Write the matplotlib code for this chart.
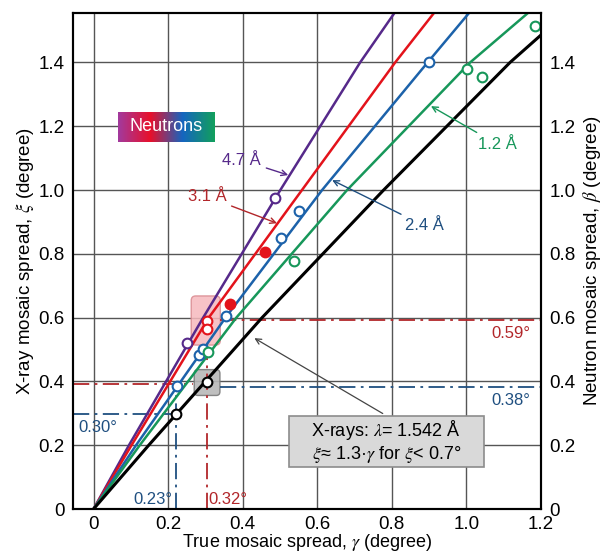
import numpy as np
import matplotlib
matplotlib.use("Agg")
import matplotlib.pyplot as plt
from matplotlib.patches import FancyBboxPatch
from matplotlib.colors import LinearSegmentedColormap

plt.rcParams['font.family'] = ['Liberation Sans', 'DejaVu Sans']
plt.rcParams['mathtext.fontset'] = 'stix'

# ---- data ----
xi_levels = [0, 0.2, 0.6, 1.0, 1.4, 1.555]          # ξ values where curves were read
gamma_47 = [0, 0.095, 0.294, 0.501, 0.715, 0.807]   # 4.7 Å
gamma_31 = [0, 0.102, 0.309, 0.559, 0.809, 0.913]   # 3.1 Å
gamma_24 = [0, 0.114, 0.354, 0.613, 0.896, 1.007]   # 2.4 Å
gamma_12 = [0, 0.124, 0.383, 0.680, 1.010, 1.165]   # 1.2 Å
gamma_xr = [0, 0.148, 0.452, 0.778, 1.117, 1.2]     # X-rays
xi_xr = [0, 0.2, 0.6, 1.0, 1.4, 1.486]

pts_47 = ([0.251, 0.488], [0.521, 0.975])
pts_31_open = ([0.303, 0.303], [0.590, 0.564])
pts_31_filled = ([0.365, 0.460], [0.642, 0.806])
pts_24 = ([0.224, 0.283, 0.293, 0.356, 0.504, 0.552, 0.901],
          [0.386, 0.482, 0.502, 0.605, 0.851, 0.935, 1.402])
pts_12 = ([0.306, 0.537, 1.001, 1.041, 1.183],
          [0.492, 0.777, 1.381, 1.353, 1.514])
pts_xr = ([0.221, 0.303], [0.297, 0.399])

# reference values
ref_gamma_blue = 0.222
ref_gamma_red = 0.303
ref_xi_blue = 0.297
ref_xi_red = 0.393
ref_beta_blue = 0.383
ref_beta_red = 0.593

xticks = [0, 0.2, 0.4, 0.6, 0.8, 1.0, 1.2]
xticklabels = ["0", "0.2", "0.4", "0.6", "0.8", "1.0", "1.2"]
yticks = [0, 0.2, 0.4, 0.6, 0.8, 1.0, 1.2, 1.4]
yticklabels = ["0", "0.2", "0.4", "0.6", "0.8", "1.0", "1.2", "1.4"]

# colours
PURPLE = '#56298a'
RED = '#e3131b'
BLUE = '#1c62aa'
GREEN = '#17975a'
DRED = '#b2262a'
DBLUE = '#1f4f80'

fig = plt.figure(figsize=(6.06, 5.56), dpi=100)
ax = fig.add_axes([0.1205, 0.0845, 0.7722, 0.8921])
XMIN, XMAX, YMIN, YMAX = -0.055, 1.2, 0.0, 1.555
ax.set_xlim(XMIN, XMAX)
ax.set_ylim(YMIN, YMAX)

ax.set_xticks(xticks)
ax.set_xticklabels(xticklabels)
ax.set_yticks(yticks)
ax.set_yticklabels(yticklabels)
ax.tick_params(axis='y', length=0, labelsize=13.5, pad=6)
ax.tick_params(axis='x', length=0, labelsize=13.5, pad=5)
ax.grid(True, color='#555555', linewidth=1.0)
ax.set_axisbelow(True)
for s in ax.spines.values():
    s.set_linewidth(1.5)

ax2 = ax.twinx()
ax2.set_ylim(YMIN, YMAX)
ax2.set_yticks(yticks)
ax2.set_yticklabels(yticklabels)
ax2.tick_params(length=0, labelsize=13.5, pad=6)
for s in ax2.spines.values():
    s.set_linewidth(1.5)

ax.set_xlabel(r"True mosaic spread, $\gamma$ (degree)", fontsize=13, labelpad=-1)
ax.set_ylabel(r"X-ray mosaic spread, $\xi$ (degree)", fontsize=13.5, labelpad=2)
ax2.set_ylabel(r"Neutron mosaic spread, $\beta$ (degree)", fontsize=13.5, labelpad=4)

# highlight boxes
pink = FancyBboxPatch((0.262, 0.514), 0.078, 0.154, boxstyle="round,pad=0,rounding_size=0.012",
                      facecolor='#f6b9bd', edgecolor='#d98a90', linewidth=1, alpha=0.85, zorder=1,
                      mutation_aspect=1.2)
ax.add_patch(pink)
gray = FancyBboxPatch((0.270, 0.356), 0.069, 0.081, boxstyle="round,pad=0,rounding_size=0.01",
                      facecolor='#b8b8b8', edgecolor='#7a7a7a', linewidth=1, alpha=0.9, zorder=1,
                      mutation_aspect=1.2)
ax.add_patch(gray)

# reference dash-dot lines
dd = (0, (9, 3, 1.5, 3))
ax.plot([XMIN, ref_gamma_red - 0.035], [ref_xi_red, ref_xi_red], color=DRED, lw=1.3, ls=dd, zorder=2)
ax.plot([ref_gamma_red + 0.035, XMAX], [ref_beta_blue, ref_beta_blue], color=DBLUE, lw=1.3, ls=dd, zorder=2)
ax.plot([0.34, XMAX], [ref_beta_red, ref_beta_red], color=DRED, lw=1.3, ls=dd, zorder=2)
ax.plot([XMIN, ref_gamma_blue], [ref_xi_blue, ref_xi_blue], color=DBLUE, lw=1.3, ls=dd, zorder=2)
ax.plot([ref_gamma_red, ref_gamma_red], [0, 0.52], color=DRED, lw=1.3, ls=dd, zorder=2)
ax.plot([ref_gamma_blue, ref_gamma_blue], [0, ref_beta_blue], color=DBLUE, lw=1.3, ls=dd, zorder=2)

# curves
lw = 1.8
ax.plot(gamma_47, xi_levels, color=PURPLE, lw=lw, zorder=3)
ax.plot(gamma_31, xi_levels, color=RED, lw=lw, zorder=3)
ax.plot(gamma_24, xi_levels, color=BLUE, lw=lw, zorder=3)
ax.plot(gamma_12, xi_levels, color=GREEN, lw=lw, zorder=3)
ax.plot(gamma_xr, xi_xr, color='black', lw=2.2, zorder=3)

mk = dict(ls='none', marker='o', markersize=7, markeredgewidth=1.5, zorder=4)
ax.plot(*pts_47, mfc='white', mec=PURPLE, **mk)
ax.plot(*pts_31_open, mfc='white', mec=RED, **mk)
ax.plot(*pts_31_filled, mfc=RED, mec=RED, **mk)
ax.plot(*pts_24, mfc='white', mec=BLUE, **mk)
ax.plot(*pts_12, mfc='white', mec=GREEN, **mk)
ax.plot(*pts_xr, mfc='white', mec='black', **mk)

# value labels
fs = 12
ax.text(-0.04, 0.255, "0.30°", color=DBLUE, fontsize=fs, ha='left', va='center')
ax.text(0.212, 0.03, "0.23°", color=DBLUE, fontsize=fs, ha='right', va='center')
ax.text(0.307, 0.03, "0.32°", color=DRED, fontsize=fs, ha='left', va='center')
ax.text(1.172, 0.55, "0.59°", color=DRED, fontsize=fs, ha='right', va='center')
ax.text(1.172, 0.34, "0.38°", color=DBLUE, fontsize=fs, ha='right', va='center')

# wavelength labels with arrows
ap = lambda c: dict(arrowstyle='->', color=c, lw=1.0, shrinkA=2, shrinkB=0, mutation_scale=10)
ax.annotate("4.7 Å", xy=(0.522, 1.047), xytext=(0.397, 1.094), color=PURPLE, fontsize=fs,
            ha='center', va='center', arrowprops=ap(PURPLE))
ax.annotate("3.1 Å", xy=(0.492, 0.896), xytext=(0.304, 0.979), color=DRED, fontsize=fs,
            ha='center', va='center', arrowprops=ap(DRED))
ax.annotate("2.4 Å", xy=(0.640, 1.031), xytext=(0.887, 0.888), color=DBLUE, fontsize=fs,
            ha='center', va='center', arrowprops=ap(DBLUE))
ax.annotate("1.2 Å", xy=(0.905, 1.263), xytext=(1.082, 1.144), color=GREEN, fontsize=fs,
            ha='center', va='center', arrowprops=ap(GREEN))

# X-ray box
ax.annotate("", xy=(0.425, 0.540), xytext=(0.782, 0.295),
            arrowprops=dict(arrowstyle='->', color='#444444', lw=0.9, mutation_scale=10), zorder=5)
xbox = FancyBboxPatch((0.523, 0.131), 0.523, 0.161, boxstyle="square,pad=0",
                      facecolor='#d9d9d9', edgecolor='#8c8c8c', linewidth=1.2, zorder=6)
ax.add_patch(xbox)
ax.text(0.785, 0.249, r"X-rays: $\lambda$= 1.542 Å", fontsize=13, ha='center', va='center', zorder=7)
ax.text(0.785, 0.172, r"$\xi$≈ 1.3·$\gamma$ for $\xi$< 0.7°", fontsize=13, ha='center', va='center', zorder=7)

# Neutrons gradient box
cmap = LinearSegmentedColormap.from_list('neu', ['#a23a9e', '#e8102a', '#1565c0', '#12a05c'])
ax.imshow(np.linspace(0, 1, 256)[None, :], cmap=cmap, extent=(0.066, 0.325, 1.151, 1.245),
          aspect='auto', zorder=5)
ax.text(0.1955, 1.198, "Neutrons", color='white', fontsize=13, ha='center', va='center', zorder=6)
ax.set_xlim(XMIN, XMAX)
ax.set_ylim(YMIN, YMAX)

fig.savefig("out.png", dpi=100)
